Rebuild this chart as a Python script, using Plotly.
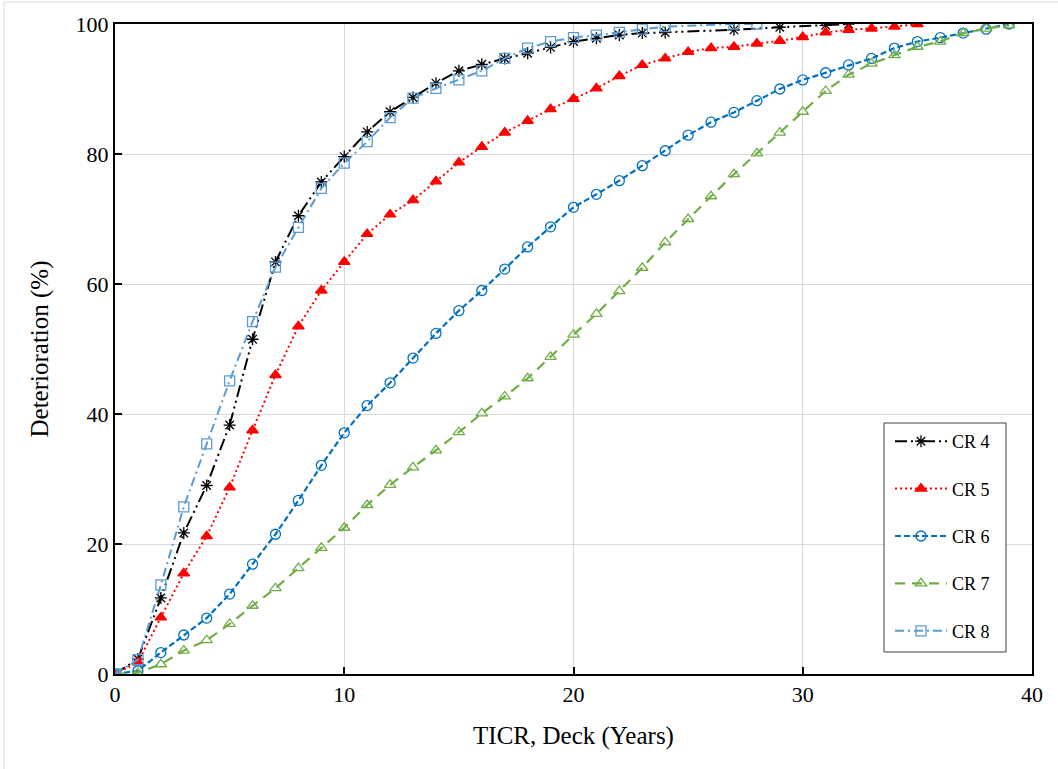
import plotly.graph_objects as go

# ---- data ----
cr4_x = list(range(0, 25)) + [27, 29, 31, 32]
cr4_y = [0, 2.3, 11.7, 21.7, 29.0, 38.3, 51.5, 63.4, 70.5, 75.7, 79.6, 83.4, 86.5, 88.7,
         90.9, 92.8, 93.8, 94.7, 95.5, 96.4, 97.3, 97.8, 98.3, 98.6, 98.7, 99.1, 99.5, 99.8, 100.0]

cr5_x = list(range(0, 36))
cr5_y = [0, 1.8, 8.7, 15.5, 21.2, 28.7, 37.5, 46.0, 53.5, 59.0, 63.4, 67.7, 70.7, 72.9, 75.8,
         78.7, 81.1, 83.3, 85.1, 86.9, 88.5, 90.1, 92.0, 93.7, 94.7, 95.7, 96.3, 96.5, 97.0,
         97.4, 98.0, 98.7, 99.1, 99.3, 99.6, 100.0]

cr6_x = list(range(0, 40))
cr6_y = [0, 0.5, 3.3, 6.0, 8.6, 12.3, 16.9, 21.5, 26.7, 32.1, 37.1, 41.3, 44.8, 48.6, 52.4,
         55.9, 59.0, 62.3, 65.7, 68.8, 71.8, 73.8, 75.9, 78.2, 80.5, 82.9, 84.9, 86.4, 88.2,
         90.0, 91.4, 92.5, 93.7, 94.7, 96.3, 97.3, 97.9, 98.6, 99.2, 100.0]

cr7_x = list(range(0, 40))
cr7_y = [0, 0.2, 1.5, 3.6, 5.2, 7.7, 10.5, 13.2, 16.3, 19.4, 22.5, 26.0, 29.1, 31.8, 34.4,
         37.2, 40.1, 42.7, 45.5, 48.8, 52.2, 55.4, 58.9, 62.5, 66.4, 70.0, 73.5, 76.9, 80.1,
         83.3, 86.5, 89.7, 92.2, 93.9, 95.2, 96.5, 97.3, 98.6, 99.3, 99.8]

cr8_x = list(range(0, 25)) + [27, 28]
cr8_y = [0, 2.2, 13.7, 25.7, 35.4, 45.1, 54.2, 62.6, 68.7, 74.7, 78.6, 81.9, 85.6, 88.6,
         90.1, 91.4, 92.8, 94.7, 96.3, 97.3, 97.9, 98.3, 98.7, 99.2, 99.6, 100.0, 100.0]

x_ticks = [0, 10, 20, 30, 40]
y_ticks = [0, 20, 40, 60, 80, 100]

FONT = "Liberation Serif, Times New Roman, serif"

series = [
    ("CR 4", cr4_x, cr4_y, "#000000", "12px,4px,2px,4px,2px,4px", "asterisk-open", 10, 2),
    ("CR 5", cr5_x, cr5_y, "#FF0000", "2px,3px", "triangle-up", 10, 2),
    ("CR 6", cr6_x, cr6_y, "#0070C0", "6px,3px", "circle-open", 10, 2.2),
    ("CR 7", cr7_x, cr7_y, "#70AD47", "10px,7px", "triangle-up-open", 10, 2.2),
    ("CR 8", cr8_x, cr8_y, "#5B9BD5", "9px,4px,2px,4px", "square-open", 10, 2),
]

fig = go.Figure()
for name, xs, ys, col, dash, sym, msize, lw in series:
    fig.add_trace(go.Scatter(
        x=xs, y=ys, name=name, mode="lines+markers",
        line=dict(color=col, dash=dash, width=lw),
        marker=dict(symbol=sym, size=msize, color=col,
                    line=dict(color=col, width=1.3)),
        legendgroup=name,
    ))

axis_common = dict(
    showline=True, linewidth=2, linecolor="black", mirror=True,
    ticks="inside", ticklen=7, tickwidth=2, tickcolor="black",
    showgrid=True, gridcolor="#d9d9d9", gridwidth=1, zeroline=False,
    tickfont=dict(family=FONT, size=22, color="black"),
)

fig.update_xaxes(range=[0, 40], tickvals=x_ticks,
                 title=dict(text="TICR, Deck (Years)", font=dict(family=FONT, size=25, color="black"),
                            standoff=20),
                 **axis_common)
fig.update_yaxes(range=[0, 100], tickvals=y_ticks,
                 title=dict(text="Deterioration (%)", font=dict(family=FONT, size=25, color="black"),
                            standoff=20),
                 **axis_common)

# legend frame position (paper fractions of the plot area)
def px_x(p):
    return (p - 115) / 917

def px_y(p):
    return (674 - p) / 650

fig.update_layout(
    width=1058, height=769,
    margin=dict(l=115, r=26, t=24, b=95),
    paper_bgcolor="white", plot_bgcolor="white",
    font=dict(family=FONT, color="black"),
    legend=dict(
        x=px_x(890), y=px_y(423), xanchor="left", yanchor="top",
        bgcolor="rgba(0,0,0,0)", borderwidth=0,
        font=dict(family=FONT, size=18, color="black"),
        tracegroupgap=21, traceorder="grouped", itemwidth=52,
    ),
    shapes=[
        dict(type="rect", xref="paper", yref="paper", layer="above",
             x0=px_x(884), x1=px_x(1006), y0=px_y(652), y1=px_y(423),
             fillcolor="white", line=dict(color="#404040", width=1)),
        dict(type="line", xref="paper", yref="paper",
             x0=px_x(4), x1=px_x(4), y0=px_y(769), y1=px_y(2),
             line=dict(color="#d9d9d9", width=1)),
        dict(type="line", xref="paper", yref="paper",
             x0=px_x(4), x1=px_x(1058), y0=px_y(2), y1=px_y(2),
             line=dict(color="#d9d9d9", width=1)),
    ],
)

fig.write_html("out.html")
